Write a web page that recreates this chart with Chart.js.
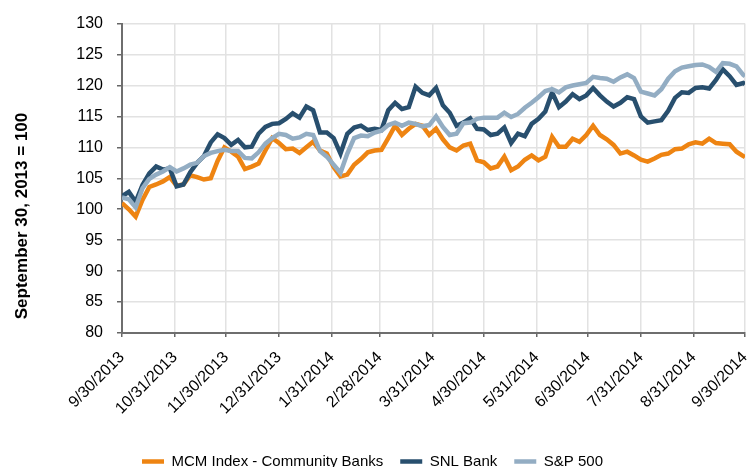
<!DOCTYPE html>
<html>
<head>
<meta charset="utf-8">
<script src="https://cdn.jsdelivr.net/npm/chart.js@4"></script>
<style>
  html, body { margin: 0; padding: 0; overflow: hidden; background: #fff; }
  #wrap { width: 751px; height: 479px; }
</style>
</head>
<body>
<div id="wrap"><canvas id="perf"></canvas></div>
<script>
// days after 9/30/2013, sampled every 4 days
const days = [0, 4, 8, 12, 16, 20, 24, 28, 32, 36, 40, 44, 48, 52, 56, 60, 64, 68, 72, 76,
  80, 84, 88, 92, 96, 100, 104, 108, 112, 116, 120, 124, 128, 132, 136, 140, 144, 148, 152, 156,
  160, 164, 168, 172, 176, 180, 184, 188, 192, 196, 200, 204, 208, 212, 216, 220, 224, 228, 232, 236,
  240, 244, 248, 252, 256, 260, 264, 268, 272, 276, 280, 284, 288, 292, 296, 300, 304, 308, 312, 316,
  320, 324, 328, 332, 336, 340, 344, 348, 352, 356, 360, 364, 365];

const mcm = [101.0, 100.0, 98.8, 101.5, 103.6, 104.0, 104.5, 105.2, 103.8, 104.0, 105.5, 105.2, 104.8, 105.0, 107.8, 110.0, 109.3, 108.5, 106.5, 106.9,
  107.4, 109.5, 111.5, 110.7, 109.7, 109.8, 109.1, 110.0, 110.9, 109.5, 109.0, 106.8, 105.3, 105.6, 107.2, 108.1, 109.2, 109.5, 109.6, 111.5,
  113.5, 112.0, 113.0, 113.8, 113.5, 112.0, 113.0, 111.3, 110.0, 109.5, 110.3, 110.6, 107.9, 107.6, 106.6, 106.9, 108.5, 106.3, 106.9, 108.0,
  108.7, 107.9, 108.5, 111.7, 110.1, 110.1, 111.4, 110.9, 112.0, 113.5, 112.0, 111.3, 110.4, 109.0, 109.3, 108.7, 108.0, 107.7, 108.2, 108.8,
  109.0, 109.7, 109.8, 110.5, 110.8, 110.6, 111.4, 110.7, 110.6, 110.5, 109.3, 108.6, 108.4];

const snl = [102.1, 102.8, 101.2, 103.9, 105.8, 106.9, 106.4, 106.6, 103.7, 104.0, 106.0, 107.5, 108.6, 110.8, 112.1, 111.5, 110.4, 111.2, 110.0, 110.1,
  112.2, 113.3, 113.8, 113.9, 114.6, 115.5, 114.8, 116.6, 116.0, 112.4, 112.4, 111.5, 109.0, 112.2, 113.2, 113.5, 112.8, 113.0, 112.8, 116.0,
  117.2, 116.2, 116.5, 119.8, 118.8, 118.4, 119.6, 116.8, 115.6, 113.5, 114.0, 114.7, 113.0, 112.9, 112.0, 112.2, 113.2, 110.7, 112.2, 111.8,
  113.8, 114.6, 115.8, 118.9, 116.5, 117.4, 118.6, 117.8, 118.4, 119.6, 118.4, 117.4, 116.6, 117.2, 118.1, 117.8, 115.0, 114.0, 114.2, 114.4,
  115.9, 118.0, 118.9, 118.8, 119.6, 119.7, 119.5, 120.9, 122.6, 121.5, 120.1, 120.4, 120.2];

const sp500 = [101.9, 101.6, 100.3, 103.4, 104.9, 105.6, 106.1, 106.8, 106.1, 106.6, 107.2, 107.5, 108.6, 109.1, 109.4, 109.6, 109.4, 109.4, 108.3, 108.2,
  109.2, 110.6, 111.5, 112.2, 112.0, 111.4, 111.6, 112.2, 112.0, 109.4, 108.5, 107.2, 105.9, 109.0, 111.5, 111.9, 111.8, 112.4, 112.7, 113.6,
  114.0, 113.5, 114.0, 113.8, 113.4, 113.6, 115.0, 113.3, 112.0, 112.2, 113.9, 114.0, 114.6, 114.8, 114.8, 114.8, 115.6, 114.9, 115.4, 116.4,
  117.2, 118.1, 119.1, 119.4, 118.9, 119.7, 120.0, 120.2, 120.4, 121.4, 121.2, 121.1, 120.6, 121.3, 121.8, 121.2, 119.0, 118.7, 118.4, 119.4,
  121.1, 122.3, 122.9, 123.1, 123.3, 123.4, 123.0, 122.2, 123.6, 123.5, 123.1, 121.7, 121.5];

// month-end ticks
const tickDays = [0, 31, 61, 92, 123, 151, 182, 212, 243, 273, 304, 335, 365];
const tickLabels = ["9/30/2013", "10/31/2013", "11/30/2013", "12/31/2013", "1/31/2014", "2/28/2014",
  "3/31/2014", "4/30/2014", "5/31/2014", "6/30/2014", "7/31/2014", "8/31/2014", "9/30/2014"];

const seriesNames = ["MCM Index - Community Banks", "SNL Bank", "S&P 500"];
const seriesColors = ["#EE8412", "#284F6E", "#93ADC3"];

function toPoints(values) {
  return values.map((v, i) => ({ x: days[i], y: v }));
}

// y axis title drawn by hand so it can sit where the original has it
const yTitle = {
  id: "yTitle",
  afterDraw(chart) {
    const ctx = chart.ctx;
    ctx.save();
    ctx.translate(22, 216);
    ctx.rotate(-Math.PI / 2);
    ctx.font = "bold 17px 'Liberation Sans', Arial, sans-serif";
    ctx.fillStyle = "#000";
    ctx.textAlign = "center";
    ctx.textBaseline = "middle";
    ctx.fillText("September 30, 2013 = 100", 0, 0);
    ctx.restore();
  }
};

const font = "'Liberation Sans', Arial, Helvetica, sans-serif";

const ctx = document.getElementById("perf").getContext("2d");
new Chart(ctx, {
  type: "line",
  data: {
    datasets: [mcm, snl, sp500].map((vals, i) => ({
      label: seriesNames[i],
      data: toPoints(vals),
      borderColor: seriesColors[i],
      backgroundColor: seriesColors[i],
      borderWidth: 4.5,
      pointRadius: 0,
      pointStyle: "line",
      tension: 0,
      order: 3 - i // S&P drawn on top
    }))
  },
  options: {
    responsive: true,
    maintainAspectRatio: false,
    animation: false,
    layout: { padding: { top: 16, right: 6, left: 0, bottom: 0 } },
    plugins: {
      legend: {
        position: "bottom",
        labels: {
          usePointStyle: true,
          pointStyle: "line",
          pointStyleWidth: 22,
          padding: 17,
          color: "#000",
          font: { family: font, size: 15 },
          sort: (a, b) => a.datasetIndex - b.datasetIndex
        }
      },
      tooltip: { enabled: false }
    },
    scales: {
      x: {
        type: "linear",
        min: 0,
        max: 365,
        afterBuildTicks: (scale) => { scale.ticks = tickDays.map(v => ({ value: v })); },
        afterFit: (scale) => {
          scale.height = 104;
          scale.paddingRight = 0;
          scale.paddingLeft = 0;
        },
        ticks: {
          autoSkip: false,
          minRotation: 45,
          maxRotation: 45,
          padding: 11,
          color: "#000",
          font: { family: font, size: 16 },
          callback: (value) => tickLabels[tickDays.indexOf(value)]
        },
        grid: { color: "#e2e2e2", tickColor: "#666", tickLength: 4, lineWidth: 1.5 },
        border: { color: "#6e6e6e", width: 2 }
      },
      y: {
        min: 80,
        max: 130,
        afterFit: (scale) => { scale.width = 122; },
        ticks: {
          stepSize: 5,
          padding: 14,
          color: "#000",
          font: { family: font, size: 16 }
        },
        grid: { color: "#e2e2e2", tickColor: "#666", tickLength: 5, lineWidth: 1.5 },
        border: { color: "#6e6e6e", width: 2 }
      }
    }
  },
  plugins: [yTitle]
});
</script>
</body>
</html>
